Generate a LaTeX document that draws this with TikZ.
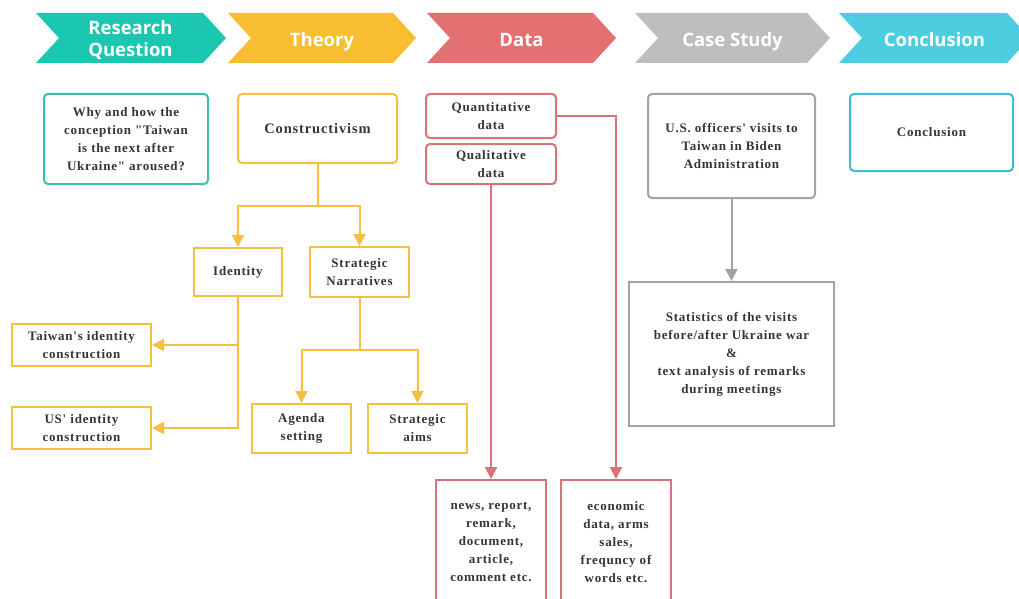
\documentclass[tikz,border=0pt]{standalone}
\usepackage{fontspec}
\usetikzlibrary{arrows.meta}
\newfontfamily\bxfont[LetterSpace=6]{Liberation Serif}
\newfontfamily\hdfont{Open Sans}
\definecolor{cteal}{HTML}{1CC7B1}
\definecolor{cyel}{HTML}{F8BE2F}
\definecolor{cred}{HTML}{E47171}
\definecolor{cgray}{HTML}{BEBEBE}
\definecolor{ccyan}{HTML}{4DCDE0}
\definecolor{bteal}{HTML}{3DBFA9}
\definecolor{byel}{HTML}{F5BF3F}
\definecolor{bred}{HTML}{D9737B}
\definecolor{bgray}{HTML}{A3A3A3}
\definecolor{bcyan}{HTML}{3BBCD0}
\definecolor{txt}{HTML}{353535}
\tikzset{
  hdtext/.style={text=white, font=\hdfont\bfseries\fontsize{18.5}{22}\selectfont, align=center, inner sep=0pt, anchor=base},
  box/.style={draw, line width=2pt, fill=white, align=center, inner sep=2pt, text=txt,
    font=\bxfont\bfseries\fontsize{13}{18}\selectfont},
  rbox/.style={box, rounded corners=4pt},
  arr/.style={line width=2pt, -{Triangle[length=12pt 0,width=12pt 0]}},
  ln/.style={line width=2pt},
}
\newcommand{\chev}[3]{% left, topright, color
  \fill[#3] (#1,13) -- (#2,13) -- (#2+23,38) -- (#2,63) -- (#1,63) -- (#1+23,38) -- cycle;
}
\begin{document}
\begin{tikzpicture}[x=1pt,y=-1pt]
\useasboundingbox (0,0) rectangle (1019,599);
% header chevrons
\chev{36}{203}{cteal}
\chev{228}{393}{cyel}
\chev{427}{593}{cred}
\chev{635}{807}{cgray}
\chev{839}{1007}{ccyan}
\node[hdtext] (h1) at (130.5,57) {Research\\Question};
\node[hdtext] (h2) at (322,46.5) {Theory};
\node[hdtext] (h3) at (521.5,46.5) {Data};
\node[hdtext] (h4) at (732.5,46.5) {Case Study};
\node[hdtext] (h5) at (934.5,46.5) {Conclusion};
% research question
\node[rbox, draw=bteal, minimum width=164pt, minimum height=90pt] (rq) at (126,139)
  {Why and how the\\conception "Taiwan\\is the next after\\Ukraine" aroused?};
% theory
\node[rbox, draw=byel, minimum width=159pt, minimum height=69pt,
  font=\bxfont\bfseries\fontsize{14.5}{18}\selectfont] (cons) at (317.5,128.5) {Constructivism};
\node[box, draw=byel, minimum width=88pt, minimum height=48pt] (ident) at (238,272) {Identity};
\node[box, draw=byel, minimum width=99pt, minimum height=50pt] (sn) at (359.5,272) {Strategic\\Narratives};
\node[box, draw=byel, minimum width=139pt, minimum height=42pt] (tw) at (81.5,345) {Taiwan's identity\\construction};
\node[box, draw=byel, minimum width=139pt, minimum height=42pt] (us) at (81.5,428) {US' identity\\construction};
\node[box, draw=byel, minimum width=99pt, minimum height=49pt] (agenda) at (301.5,428.5) {Agenda\\setting};
\node[box, draw=byel, minimum width=99pt, minimum height=49pt] (aims) at (417.5,428.5) {Strategic\\aims};
\coordinate (j1) at (317.5,206);
\coordinate (j2) at (359.5,350);
\draw[ln, byel] (cons.south) -- (j1);
\draw[arr, byel] (j1) -| (ident.north);
\draw[arr, byel] (j1) -| (sn.north);
\draw[arr, byel] (ident.south) |- (us.east);
\draw[arr, byel] (ident.south) |- (tw.east);
\draw[ln, byel] (sn.south) -- (j2);
\draw[arr, byel] (j2) -| (agenda.north);
\draw[arr, byel] (j2) -| (aims.north);
% data
\node[rbox, draw=bred, minimum width=130pt, minimum height=44pt] (quant) at (491,116) {Quantitative\\data};
\node[rbox, draw=bred, minimum width=130pt, minimum height=40pt] (qual) at (491,164) {Qualitative\\data};
\node[box, draw=bred, minimum width=110pt, minimum height=124pt] (news) at (491,542)
  {news, report,\\remark,\\document,\\article,\\comment etc.};
\node[box, draw=bred, minimum width=110pt, minimum height=124pt] (econ) at (616,542)
  {economic\\data, arms\\sales,\\frequncy of\\words etc.};
\draw[arr, bred] (quant.east) -| (econ.north);
\draw[arr, bred] (qual.south) -- (news.north);
% case study
\node[rbox, draw=bgray, minimum width=167pt, minimum height=104pt] (usoff) at (731.5,146)
  {U.S. officers' visits to\\Taiwan in Biden\\Administration};
\node[box, draw=bgray, minimum width=205pt, minimum height=144pt] (stats) at (731.5,354)
  {Statistics of the visits\\before/after Ukraine war\\\&\\text analysis of remarks\\during meetings};
\draw[arr, bgray] (usoff.south) -- (stats.north);
% conclusion
\node[rbox, draw=bcyan, minimum width=163pt, minimum height=77pt] (concl) at (931.5,132.5) {Conclusion};
\end{tikzpicture}
\end{document}
